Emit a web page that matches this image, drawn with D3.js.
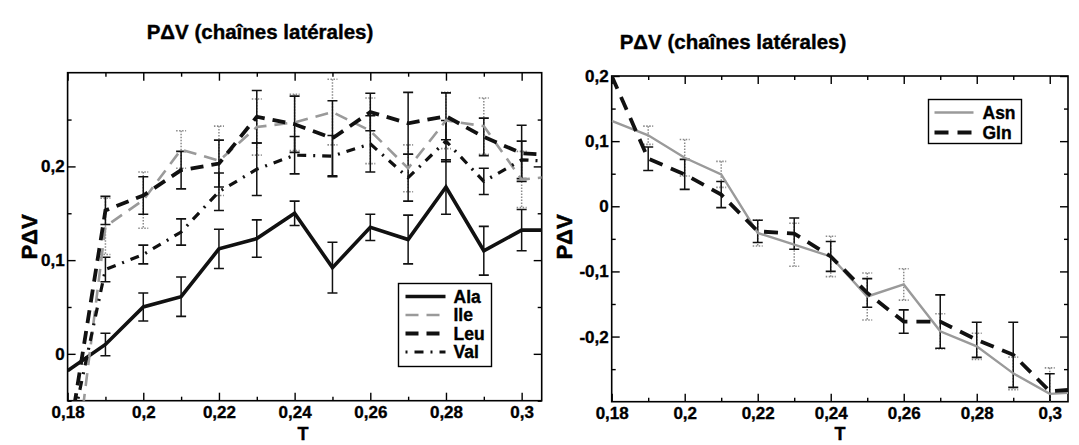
<!DOCTYPE html>
<html><head><meta charset="utf-8">
<script src="https://cdn.jsdelivr.net/npm/d3@7"></script>
<style>
body{margin:0;background:#fff}
svg{display:block}
text{font-family:"Liberation Sans",Arial,Helvetica,sans-serif;font-weight:bold;fill:#000}
</style>
</head><body>
<svg id="chart" width="1079" height="445"></svg>
<script>
// ---------- data ----------
const T = [0.18,0.19,0.20,0.21,0.22,0.23,0.24,0.25,0.26,0.27,0.28,0.29,0.30,0.31];

const titleText = "P\u0394V (chaînes latérales)";
const yLabelText = "P\u0394V";
const xLabelText = "T";

const xTickValues = [0.18,0.20,0.22,0.24,0.26,0.28,0.30];
const xTickLabels = ["0,18","0,2","0,22","0,24","0,26","0,28","0,3"];
const xMinorTicks = [0.19,0.21,0.23,0.25,0.27,0.29];

// left panel
const leftYTickValues = [0,0.1,0.2];
const leftYTickLabels = ["0","0,1","0,2"];
const leftYMinorTicks = [-0.05,0.05,0.15,0.25];

const alaVal = [-0.018,0.010,0.050,0.061,0.112,0.123,0.150,0.092,0.135,0.122,0.178,0.110,0.132,0.132];
const alaErr = [null,0.012,0.015,0.021,0.021,0.020,0.013,0.027,0.014,0.026,0.029,0.026,0.022,null];
const ileVal = [-0.19,0.136,0.164,0.218,0.206,0.242,0.247,0.258,0.238,0.198,0.249,0.243,0.186,0.19];
const ileErr = [null,0.030,0.030,0.020,0.037,0.030,0.030,0.035,0.035,0.025,0.030,0.030,0.030,null];
const leuVal = [-0.10,0.153,0.169,0.196,0.203,0.253,0.245,0.230,0.258,0.246,0.2535,0.2315,0.214,0.212];
const leuErr = [null,0.015,0.020,0.020,0.025,0.028,0.030,0.040,0.020,0.033,0.025,0.020,0.030,null];
const valVal = [-0.10,0.090,0.106,0.130,0.173,0.197,0.212,0.211,0.224,0.188,0.227,0.184,0.207,0.205];
const valErr = [null,0.013,0.010,0.014,0.020,0.028,0.020,0.022,0.030,0.025,0.022,0.014,0.020,null];

// right panel
const rightYTickValues = [-0.2,-0.1,0,0.1,0.2];
const rightYTickLabels = ["-0,2","-0,1","0","0,1","0,2"];
const rightYMinorTicks = [-0.25,-0.15,-0.05,0.05,0.15];

const asnVal = [0.131,0.109,0.0745,0.049,-0.041,-0.059,-0.077,-0.1385,-0.120,-0.192,-0.215,-0.2565,-0.288,-0.285];
const asnErr = [null,0.014,0.028,0.020,0.020,0.033,0.031,0.036,0.024,0.027,0.020,0.025,0.040,null];
const glnVal = [0.200,0.073,0.049,0.018,-0.0385,-0.042,-0.077,-0.133,-0.177,-0.177,-0.205,-0.228,-0.284,-0.280];
const glnErr = [null,0.018,0.023,0.020,0.017,0.024,0.023,0.022,0.018,0.041,0.027,0.050,0.027,null];

// ---------- styles ----------
const styles = {
  Ala:{stroke:"#111", width:3.6, dash:null, errColor:"#111", errDash:null},
  Ile:{stroke:"#9a9a9a", width:2.6, dash:"13,8", errColor:"#8a8a8a", errDash:"1.5,1.5"},
  Leu:{stroke:"#111", width:3.8, dash:"13,8", errColor:"#111", errDash:null},
  Val:{stroke:"#111", width:3.2, dash:"2,7,9,7", errColor:"#111", errDash:null},
  Asn:{stroke:"#9a9a9a", width:2.4, dash:null, errColor:"#8a8a8a", errDash:"1.5,1.5"},
  Gln:{stroke:"#111", width:3.8, dash:"14,9", errColor:"#111", errDash:null}
};

const svg = d3.select("#chart");

function drawPanel(cfg){
  const g = svg.append("g");
  const x = d3.scaleLinear().domain([0.18, cfg.xMax]).range([cfg.x0, cfg.x1]);
  const y = d3.scaleLinear().domain(cfg.yDomain).range([cfg.y1, cfg.y0]);
  const clipId = "clip-" + cfg.id;
  svg.append("clipPath").attr("id", clipId).append("rect")
    .attr("x", cfg.x0).attr("y", cfg.y0).attr("width", cfg.x1-cfg.x0).attr("height", cfg.y1-cfg.y0);

  const fmtX = d => xTickLabels[xTickValues.indexOf(d)];
  const fmtY = d => cfg.yLabels[cfg.yTicks.indexOf(d)];
  const axisStyle = a => { a.select(".domain").remove(); a.selectAll("line").attr("stroke","#000").attr("stroke-width",1.4); };
  const labelStyle = sel => sel.style("font-size","17px").style("font-family","'Liberation Sans',Arial,sans-serif")
      .style("font-weight","bold").attr("stroke","#000").attr("stroke-width",0.35);

  g.append("g").attr("transform",`translate(0,${cfg.y1})`)
    .call(d3.axisBottom(x).tickValues(xTickValues).tickSize(-8).tickPadding(5).tickFormat(fmtX))
    .call(axisStyle).selectAll("text").call(labelStyle);
  g.append("g").attr("transform",`translate(0,${cfg.y1})`)
    .call(d3.axisBottom(x).tickValues(xMinorTicks).tickSize(-4).tickFormat(""))
    .call(axisStyle);
  g.append("g").attr("transform",`translate(0,${cfg.y0})`)
    .call(d3.axisTop(x).tickValues(xTickValues).tickSize(-8).tickFormat(""))
    .call(axisStyle);
  g.append("g").attr("transform",`translate(0,${cfg.y0})`)
    .call(d3.axisTop(x).tickValues(xMinorTicks).tickSize(-4).tickFormat(""))
    .call(axisStyle);

  g.append("g").attr("transform",`translate(${cfg.x0},0)`)
    .call(d3.axisLeft(y).tickValues(cfg.yTicks).tickSize(-8).tickPadding(3).tickFormat(fmtY))
    .call(axisStyle).selectAll("text").call(labelStyle);
  g.append("g").attr("transform",`translate(${cfg.x0},0)`)
    .call(d3.axisLeft(y).tickValues(cfg.yMinor).tickSize(-4).tickFormat(""))
    .call(axisStyle);
  g.append("g").attr("transform",`translate(${cfg.x1},0)`)
    .call(d3.axisRight(y).tickValues(cfg.yTicks).tickSize(-8).tickFormat(""))
    .call(axisStyle);
  g.append("g").attr("transform",`translate(${cfg.x1},0)`)
    .call(d3.axisRight(y).tickValues(cfg.yMinor).tickSize(-4).tickFormat(""))
    .call(axisStyle);

  g.append("rect").attr("x",cfg.x0).attr("y",cfg.y0)
    .attr("width",cfg.x1-cfg.x0).attr("height",cfg.y1-cfg.y0)
    .attr("fill","none").attr("stroke","#000").attr("stroke-width",1.6);

  const plot = g.append("g").attr("clip-path",`url(#${clipId})`);

  cfg.series.forEach(s => {
    const st = styles[s.name];
    const eg = plot.append("g").attr("stroke",st.errColor).attr("stroke-width",1.5)
      .attr("stroke-dasharray",st.errDash);
    T.forEach((t,i) => {
      const e = s.err[i];
      if (e == null) return;
      const cx = x(t), yt = y(s.val[i]+e), yb = y(s.val[i]-e);
      eg.append("line").attr("x1",cx).attr("x2",cx).attr("y1",yt).attr("y2",yb);
      eg.append("line").attr("x1",cx-5).attr("x2",cx+5).attr("y1",yt).attr("y2",yt).attr("stroke-dasharray",null).attr("stroke-width",1.6);
      eg.append("line").attr("x1",cx-5).attr("x2",cx+5).attr("y1",yb).attr("y2",yb).attr("stroke-dasharray",null).attr("stroke-width",1.6);
    });
  });

  const line = d3.line().x((d,i)=>x(T[i])).y(d=>y(d));
  cfg.series.forEach(s => {
    const st = styles[s.name];
    plot.append("path").datum(s.val).attr("d",line)
      .attr("fill","none").attr("stroke",st.stroke).attr("stroke-width",st.width)
      .attr("stroke-dasharray",st.dash).attr("stroke-linejoin","miter");
  });

  svg.append("text").attr("x",cfg.titleX).attr("y",cfg.titleY).attr("text-anchor","middle")
    .attr("stroke","#000").attr("stroke-width",0.4)
    .style("font-size","20.5px").text(titleText);
  svg.append("text").attr("transform",`translate(${cfg.yLabX},${cfg.yLabY}) rotate(-90)`)
    .attr("text-anchor","middle").attr("stroke","#000").attr("stroke-width",0.5)
    .style("font-size","22px").text(yLabelText);
  svg.append("text").attr("x",cfg.xLabX).attr("y",440).attr("text-anchor","middle")
    .attr("stroke","#000").attr("stroke-width",0.4)
    .style("font-size","18px").text(xLabelText);

  const L = cfg.legend;
  const lg = svg.append("g");
  lg.append("rect").attr("x",L.x).attr("y",L.y).attr("width",L.w).attr("height",L.h)
    .attr("fill","#fff").attr("stroke","#000").attr("stroke-width",1.4);
  cfg.series.forEach((s,i) => {
    const st = styles[s.name];
    const yy = L.y + L.first + i*L.step;
    lg.append("line").attr("x1",L.x+L.sx0).attr("x2",L.x+L.sx1).attr("y1",yy).attr("y2",yy)
      .attr("stroke",st.stroke).attr("stroke-width",st.width).attr("stroke-dasharray",st.dash);
    lg.append("text").attr("x",L.x+L.tx).attr("y",yy+6).attr("stroke","#000").attr("stroke-width",0.35)
      .style("font-size","17.5px").text(s.name);
  });
}

drawPanel({
  id:"left", x0:67.6, x1:541.7, y0:72.7, y1:400.7, xMax:0.3053, yDomain:[-0.05,0.3],
  yTicks:leftYTickValues, yLabels:leftYTickLabels, yMinor:leftYMinorTicks,
  series:[{name:"Ala",val:alaVal,err:alaErr},{name:"Ile",val:ileVal,err:ileErr},
          {name:"Leu",val:leuVal,err:leuErr},{name:"Val",val:valVal,err:valErr}],
  titleX:260, titleY:39, yLabX:37, yLabY:237, xLabX:303,
  legend:{x:398.5,y:283.5,w:93,h:83,first:13,step:18.5,sx0:7,sx1:47,tx:55}
});

drawPanel({
  id:"right", x0:611.7, x1:1068, y0:76, y1:401.7, xMax:0.305, yDomain:[-0.3,0.2],
  yTicks:rightYTickValues, yLabels:rightYTickLabels, yMinor:rightYMinorTicks,
  series:[{name:"Asn",val:asnVal,err:asnErr},{name:"Gln",val:glnVal,err:glnErr}],
  titleX:733, titleY:49, yLabX:572, yLabY:237, xLabX:840,
  legend:{x:928.5,y:99.5,w:93,h:44,first:13,step:20,sx0:6,sx1:45,tx:54}
});
</script>
</body></html>
